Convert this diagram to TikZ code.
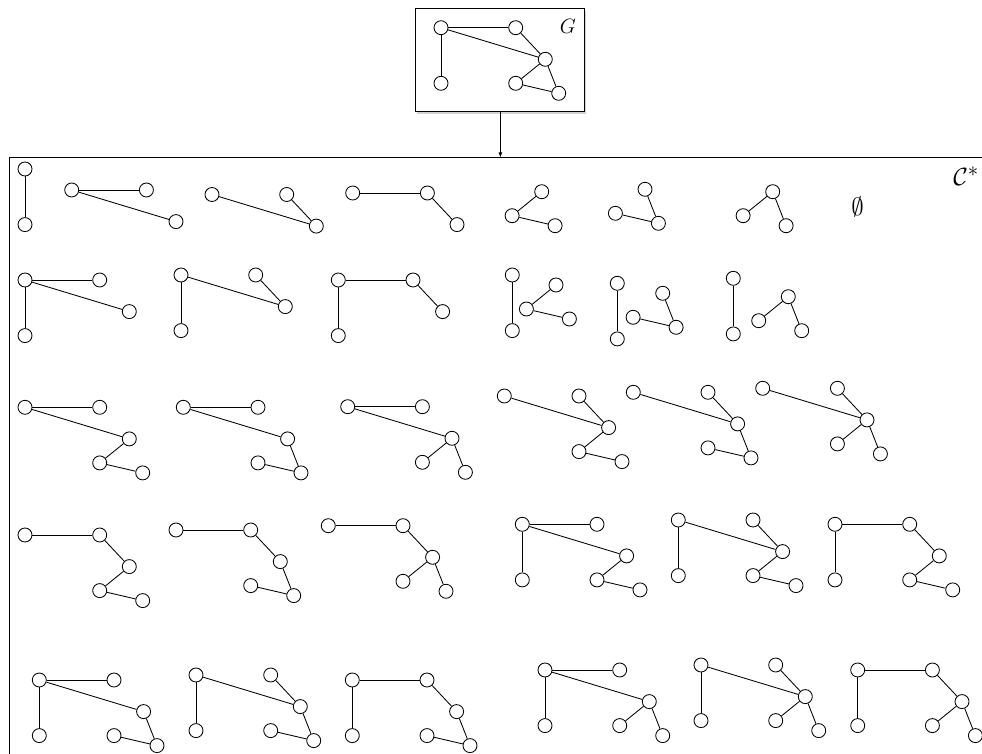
\documentclass[tikz,border=0pt]{standalone}
\usetikzlibrary{calc,arrows.meta,shadows}

\newcommand{\subg}[5]{%
  \foreach \vn in {#4} \node[vtx] (#1\vn) at ($(#2,#3)+(L\vn)$) {};
  \foreach \ea/\eb in {#5} \draw (#1\ea) -- (#1\eb);}

\begin{document}
\begin{tikzpicture}[x=1pt,y=-1pt,line width=0.85pt,
  vtx/.style={circle,draw,fill=white,inner sep=0pt,minimum size=14pt},
  box/.style={draw,fill=white,inner sep=0pt,line width=0.9pt,
    drop shadow={shadow xshift=0.6pt,shadow yshift=-2pt,opacity=0.35}},
  lbl/.style={inner sep=0pt,font=\Huge}]
\useasboundingbox (0,0) rectangle (982,754);
\clip (0,0) rectangle (982,754);
\coordinate (La) at (0,0);
\coordinate (Lb) at (74.7,0);
\coordinate (Lc) at (104.3,31.6);
\coordinate (Ld) at (0,55.6);
\coordinate (Le) at (74.7,55.6);
\coordinate (Lf) at (117.7,65.6);

\node[box,anchor=north west,minimum width=1000pt,minimum height=640pt] (cbox) at (9,157.5) {};
\node[box,minimum width=169pt,minimum height=103pt] (gbox) at (500.4,60.4) {};
\draw[-{Latex[length=5pt,width=4pt]}] (gbox.south) -- (gbox.south |- cbox.north);

\subg{g}{441}{27.7}{a,b,c,d,e,f}{a/b,a/c,a/d,b/c,c/e,c/f,e/f}
\node[lbl,font=\huge] (glabel) at (568,26) {$G$};
\node[lbl] (cstar) at (966,176) {$\mathcal{C}^*$};
\node[lbl] (empty) at (857.5,206.7) {$\emptyset$};

\subg{s1}{25}{169}{a,d}{a/d}
\subg{s2}{71.7}{190}{a,b,c}{a/b,a/c}
\subg{s3}{212}{194.5}{a,b,c}{a/c,b/c}
\subg{s4}{352.7}{193}{a,b,c}{a/b,b/c}
\subg{s5}{437.4}{160.1}{c,e,f}{c/e,e/f}
\subg{s6}{540.7}{157.7}{c,e,f}{c/f,e/f}
\subg{s7}{668.4}{160.1}{c,e,f}{c/e,c/f}

\subg{s9}{25}{280}{a,b,c,d}{a/b,a/c,a/d}
\subg{s10}{181}{275}{a,b,c,d}{a/c,b/c,a/d}
\subg{s11}{338.3}{280}{a,b,c,d}{a/b,b/c,a/d}
\subg{s12}{512.3}{275}{a,d}{a/d}
\subg{s12}{451.7}{253.4}{c,e,f}{c/e,e/f}
\subg{s13}{617.3}{283.3}{a,d}{a/d}
\subg{s13}{558.4}{261.7}{c,e,f}{c/f,e/f}
\subg{s14}{733.3}{278.3}{a,d}{a/d}
\subg{s14}{684}{265.1}{c,e,f}{c/e,c/f}

\subg{s15}{25}{407.3}{a,b,c,e,f}{a/b,a/c,c/e,e/f}
\subg{s16}{183.3}{407.3}{a,b,c,e,f}{a/b,a/c,c/f,e/f}
\subg{s17}{347.7}{406.7}{a,b,c,e,f}{a/b,a/c,c/e,c/f}
\subg{s18}{504.3}{396}{a,b,c,e,f}{a/c,b/c,c/e,e/f}
\subg{s19}{633.3}{392.3}{a,b,c,e,f}{a/c,b/c,c/f,e/f}
\subg{s20}{762.7}{388.3}{a,b,c,e,f}{a/c,b/c,c/e,c/f}

\subg{s21}{25}{535}{a,b,c,e,f}{a/b,b/c,c/e,e/f}
\subg{s22}{176}{530}{a,b,c,e,f}{a/b,b/c,c/f,e/f}
\subg{s23}{328.3}{525.7}{a,b,c,e,f}{a/b,b/c,c/e,c/f}
\subg{s24}{522.3}{524.3}{a,b,c,d,e,f}{a/b,a/c,a/d,c/e,e/f}
\subg{s25}{678.3}{520}{a,b,c,d,e,f}{a/c,b/c,a/d,c/e,e/f}
\subg{s26}{835}{524.3}{a,b,c,d,e,f}{a/b,b/c,a/d,c/e,e/f}

\subg{s27}{39.3}{680}{a,b,c,d,e,f}{a/b,a/c,a/d,c/f,e/f}
\subg{s28}{196}{675}{a,b,c,d,e,f}{a/c,b/c,a/d,c/f,e/f}
\subg{s29}{352.3}{680}{a,b,c,d,e,f}{a/b,b/c,a/d,c/f,e/f}
\subg{s30}{545}{670}{a,b,c,d,e,f}{a/b,a/c,a/d,c/e,c/f}
\subg{s31}{701}{665}{a,b,c,d,e,f}{a/c,b/c,a/d,c/e,c/f}
\subg{s32}{857.7}{670}{a,b,c,d,e,f}{a/b,b/c,a/d,c/e,c/f}
\end{tikzpicture}
\end{document}
